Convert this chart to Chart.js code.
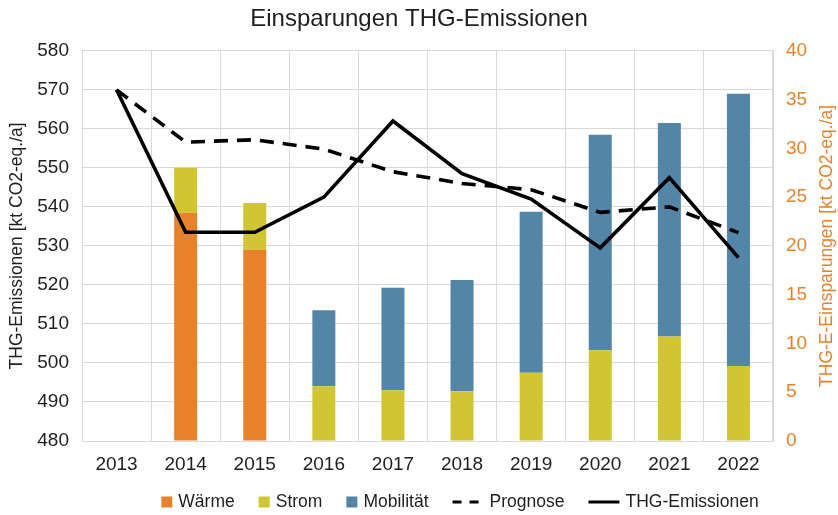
<!DOCTYPE html>
<html>
<head>
<meta charset="utf-8">
<script src="https://cdn.jsdelivr.net/npm/chart.js@4"></script>
<style>
  html, body { margin: 0; padding: 0; background: #fff; }
  #wrap { width: 838px; height: 515px; }
</style>
</head>
<body>
<div id="wrap"><canvas id="c" width="838" height="515"></canvas></div>
<script>
// ---- data ----
const years = ['2013','2014','2015','2016','2017','2018','2019','2020','2021','2022'];
const waerme = [null, 23.4, 19.6, null, null, null, null, null, null, null];
const strom = [null, 4.6, 4.8, 5.6, 5.2, 5.1, 7.0, 9.3, 10.7, 7.7];
const mobilitaet = [null, null, null, 7.8, 10.5, 11.4, 16.5, 22.1, 21.9, 27.9];
const prognose = [570, 556.6, 557.2, 554.8, 549, 546, 544.4, 538.6, 540, 533.4];
const thg = [570, 533.5, 533.5, 542.5, 562, 548.5, 542, 529.5, 547.5, 527];
const leftTicks = [480, 580, 10];
const rightTicks = [0, 40, 5];
const rightTitle = 'THG-E-Einsparungen [kt CO2-eq./a]';

const FONT = "'Liberation Sans', Arial, sans-serif";
const TXT = '#1f1f1f';
const GRID = '#d9d9d9';
const ORANGE = '#e6832a';
const YELLOW = '#d2c532';
const BLUE = '#5385a7';

const legendPlugin = {
  id: 'customLegend',
  afterDraw(chart) {
    const ctx = chart.ctx;
    // right axis title, reading bottom to top
    ctx.save();
    ctx.font = '17.5px ' + FONT;
    ctx.fillStyle = ORANGE;
    ctx.textAlign = 'center';
    ctx.textBaseline = 'middle';
    ctx.translate(827, (chart.chartArea.top + chart.chartArea.bottom) / 2);
    ctx.rotate(-Math.PI / 2);
    ctx.fillText(rightTitle, 0, 0);
    ctx.restore();

    const items = [
      { label: 'Wärme', type: 'box', color: ORANGE },
      { label: 'Strom', type: 'box', color: YELLOW },
      { label: 'Mobilität', type: 'box', color: BLUE },
      { label: 'Prognose', type: 'dash', color: '#000' },
      { label: 'THG-Emissionen', type: 'line', color: '#000' }
    ];
    ctx.save();
    ctx.font = '17.5px ' + FONT;
    const box = 11, lineLen = 31, gapSym = 6, gapItem = 24;
    let total = 0;
    items.forEach((it, i) => {
      it.sym = it.type === 'box' ? box : lineLen;
      it.tw = ctx.measureText(it.label).width;
      total += it.sym + gapSym + it.tw + (i < items.length - 1 ? gapItem : 0);
    });
    let x = 460 - total / 2;
    const y = 502;
    items.forEach(it => {
      if (it.type === 'box') {
        ctx.fillStyle = it.color;
        ctx.fillRect(x, y - box / 2, box, box);
      } else {
        ctx.strokeStyle = it.color;
        ctx.lineWidth = 3;
        ctx.setLineDash(it.type === 'dash' ? [9, 8] : []);
        ctx.beginPath();
        ctx.moveTo(x, y);
        ctx.lineTo(x + lineLen, y);
        ctx.stroke();
        ctx.setLineDash([]);
      }
      x += it.sym + gapSym;
      ctx.fillStyle = TXT;
      ctx.textBaseline = 'middle';
      ctx.textAlign = 'left';
      ctx.fillText(it.label, x, y);
      x += it.tw + gapItem;
    });
    ctx.restore();
  }
};

const barCommon = { type: 'bar', yAxisID: 'y1', stack: 's', barPercentage: 0.333, categoryPercentage: 1, order: 2, borderWidth: 0 };

new Chart(document.getElementById('c'), {
  data: {
    labels: years,
    datasets: [
      Object.assign({ label: 'Wärme', data: waerme, backgroundColor: ORANGE }, barCommon),
      Object.assign({ label: 'Strom', data: strom, backgroundColor: YELLOW }, barCommon),
      Object.assign({ label: 'Mobilität', data: mobilitaet, backgroundColor: BLUE }, barCommon),
      { type: 'line', label: 'Prognose', data: prognose, yAxisID: 'y', borderColor: '#000', borderWidth: 3.6,
        borderDash: [14, 9], pointRadius: 0, tension: 0, fill: false, order: 0 },
      { type: 'line', label: 'THG-Emissionen', data: thg, yAxisID: 'y', borderColor: '#000', borderWidth: 3.6,
        pointRadius: 0, tension: 0, fill: false, order: 0 }
    ]
  },
  options: {
    responsive: false,
    animation: false,
    devicePixelRatio: 1,
    layout: { padding: { left: 0, right: 0, top: 0, bottom: 44 } },
    plugins: {
      legend: { display: false },
      tooltip: { enabled: false },
      title: {
        display: true,
        text: 'Einsparungen THG-Emissionen',
        color: TXT,
        font: { family: FONT, size: 24, weight: 'normal', lineHeight: 1.2 },
        padding: { top: 5, bottom: 17 }
      }
    },
    scales: {
      x: {
        offset: true,
        grid: { color: GRID, offset: true, drawTicks: false, lineWidth: 1 },
        border: { color: GRID },
        ticks: { color: TXT, font: { family: FONT, size: 19 }, padding: 12 },
        afterFit(s) { s.height = 30; }
      },
      y: {
        position: 'left',
        min: leftTicks[0], max: leftTicks[1],
        ticks: { stepSize: leftTicks[2], color: TXT, font: { family: FONT, size: 19 }, padding: 13 },
        grid: { color: GRID, drawTicks: false, lineWidth: 1 },
        border: { color: GRID },
        title: { display: true, text: 'THG-Emissionen [kt CO2-eq./a]', color: TXT,
                 font: { family: FONT, size: 17.5 }, padding: { top: 7, bottom: 0 } },
        afterFit(s) { s.width = 82; }
      },
      y1: {
        position: 'right',
        min: rightTicks[0], max: rightTicks[1],
        ticks: { stepSize: rightTicks[2], color: ORANGE, font: { family: FONT, size: 19 }, padding: 13 },
        grid: { drawOnChartArea: false, drawTicks: false },
        border: { color: GRID },
        title: { display: false },
        afterFit(s) { s.width = 65; }
      }
    }
  },
  plugins: [legendPlugin]
});
</script>
</body>
</html>
